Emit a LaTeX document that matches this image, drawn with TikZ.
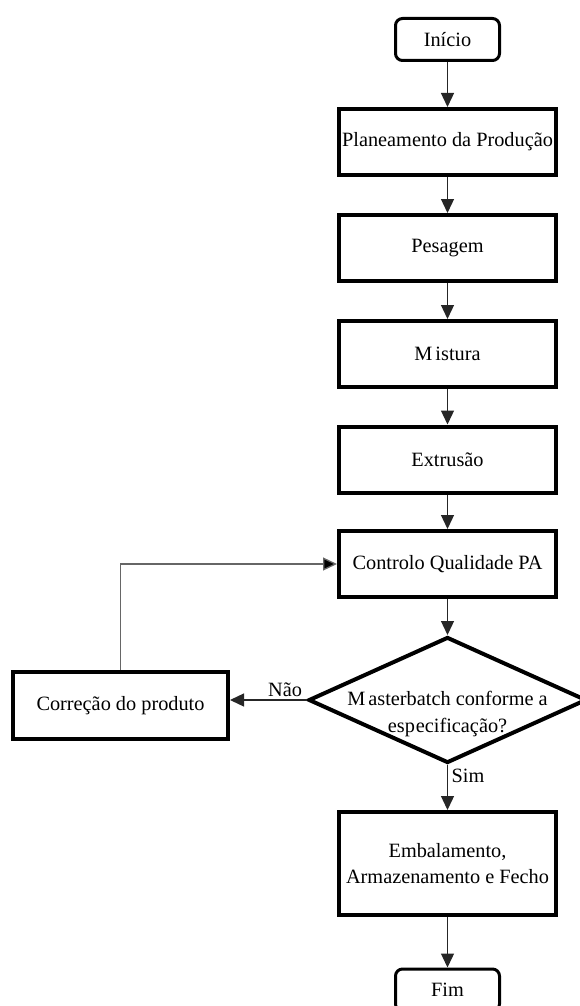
\documentclass[tikz,border=0pt]{standalone}
\usepackage{fontspec}
\setmainfont{Liberation Serif}
\usetikzlibrary{arrows.meta,shapes.geometric}

\begin{document}
\begin{tikzpicture}[x=1pt,y=-1pt,
  every node/.style={font=\fontsize{20.3}{26.8}\selectfont},
  terminal/.style={draw=black, line width=3pt, rounded corners=7pt,
    minimum width=104pt, minimum height=42pt, inner sep=0pt},
  process/.style={draw=black, line width=4pt,
    minimum width=217pt, minimum height=66pt, inner sep=0pt, align=center},
  decision/.style={draw=black, line width=4pt, shape=diamond, aspect=2.2,
    minimum width=278pt, minimum height=126pt, inner sep=0pt},
  flow/.style={draw=black!85, line width=1.3pt,
    -{Triangle[length=14pt,width=13pt]}},
  loopback/.style={draw=black!60, line width=1.3pt,
    -{Triangle[length=14pt,width=13pt,fill=black]}},
  tag/.style={inner sep=0pt}
]
\useasboundingbox (0,0) rectangle (580,1006);

% main column
\node[terminal] (start) at (447.5,39.5) {Início};
\node[process] (plan) at (447.5,142) {Planeamento da Produção};
\node[process] (pes) at (447.5,248) {Pesagem};
\node[process] (mix) at (447.5,354) {M\kern3pt istura};
\node[process] (ext) at (447.5,459.5) {Extrusão};
\node[process] (qc) at (447.5,564) {Controlo Qualidade PA};
\node[decision] (dec) at (447.5,700) {};
\node[tag, align=center] (dectext) at (447.5,714)
  {M\kern3pt asterbatch conforme a\\esp\kern1pt ecificação?};
\node[process, minimum height=103pt] (pack) at (447.5,863.5)
  {Embalamento,\\Armazenamento e Fecho};
\node[terminal] (end) at (447.5,990) {Fim};

% correction branch
\node[process, minimum width=215pt, minimum height=67pt] (fix) at (120.5,705.5)
  {Correção do produto};

% connectors
\draw[flow] (start) -- (plan);
\draw[flow] (plan) -- (pes);
\draw[flow] (pes) -- (mix);
\draw[flow] (mix) -- (ext);
\draw[flow] (ext) -- (qc);
\draw[flow] (qc) -- (dec);
\draw[flow] (dec) -- (pack);
\draw[flow] (pack) -- (end);
\draw[flow] (dec.west) -- (dec.west -| fix.east);
\draw[loopback] (fix.north) |- (qc.west);

% branch labels
\node[tag] (no) at (285,690) {Não};
\node[tag] (yes) at (468,776) {Sim};
\end{tikzpicture}
\end{document}
